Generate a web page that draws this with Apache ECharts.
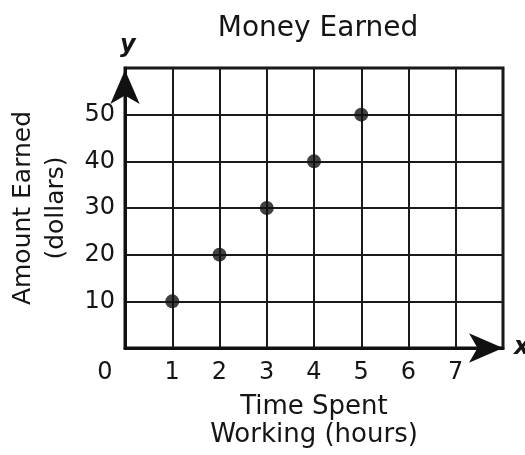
<!DOCTYPE html>
<html>
<head>
<meta charset="utf-8">
<script src="https://cdn.jsdelivr.net/npm/echarts@6/dist/echarts.min.js"></script>
<style>
  html, body { margin: 0; padding: 0; background: #fff; }
  #chart { width: 525px; height: 455px; }
</style>
</head>
<body>
<div id="chart"></div>
<script>
const hours = [1, 2, 3, 4, 5];
const dollars = [10, 20, 30, 40, 50];
const xTicks = [0, 1, 2, 3, 4, 5, 6, 7];
const yTicks = [10, 20, 30, 40, 50];

const font = 'DejaVu Sans';
const ink = '#151515';

const points = hours.map((h, i) => [h, dollars[i]]);

const chart = echarts.init(document.getElementById('chart'));
chart.setOption({
    backgroundColor: '#fff',
    animation: false,
    title: {
        text: 'Money Earned',
        left: 313,
        top: 10,
        textAlign: 'center',
        textStyle: {fontFamily: font, fontSize: 28, fontWeight: 'normal', color: ink}
    },
    grid: {
        left: 125, right: 22, top: 68, bottom: 107,
        outerBoundsMode: 'none', containLabel: false,
        show: true, borderColor: '#111', borderWidth: 3, backgroundColor: 'transparent'
    },
    xAxis: {
        type: 'value',
        min: 0, max: 8, interval: 1,
        name: 'Time Spent\nWorking (hours)',
        nameLocation: 'middle',
        nameGap: 45,
        nameTextStyle: {fontFamily: font, fontSize: 26, color: ink, lineHeight: 28, verticalAlign: 'top'},
        axisLine: {
            show: true, onZero: false,
            symbol: ['none', 'arrow'], symbolSize: [22, 34], symbolOffset: [0, 0],
            lineStyle: {color: '#111', width: 3}
        },
        axisTick: {show: false},
        splitLine: {show: true, lineStyle: {color: '#1a1a1a', width: 2}},
        axisLabel: {
            margin: 13,
            fontFamily: font, fontSize: 24, color: ink,
            formatter: v => xTicks.includes(v) ? (v === 0 ? '{z|0}' : String(v)) : '',
            rich: {z: {fontFamily: font, fontSize: 24, color: ink, padding: [0, 40, 0, 0]}}
        }
    },
    yAxis: {
        type: 'value',
        min: 0, max: 60, interval: 10,
        name: 'Amount Earned\n(dollars)',
        nameLocation: 'middle',
        nameGap: 52,
        nameRotate: 90,
        nameTextStyle: {fontFamily: font, fontSize: 25, color: ink, lineHeight: 33},
        axisLine: {
            show: true, onZero: false,
            symbol: ['none', 'arrow'], symbolSize: [22, 34], symbolOffset: [0, -2],
            lineStyle: {color: '#111', width: 3}
        },
        axisTick: {show: false},
        splitLine: {show: true, lineStyle: {color: '#1a1a1a', width: 2}},
        axisLabel: {
            margin: 10,
            fontFamily: font, fontSize: 24, color: ink,
            formatter: v => yTicks.includes(v) ? String(v) : ''
        }
    },
    graphic: [
        {type: 'text', left: 120, top: 34, style: {text: 'y', fontFamily: font, fontSize: 24, fontWeight: 'bold', fontStyle: 'italic', fill: ink}},
        {type: 'text', left: 514, top: 336, style: {text: 'x', fontFamily: font, fontSize: 24, fontWeight: 'bold', fontStyle: 'italic', fill: ink}}
    ],
    series: [{
        type: 'scatter',
        data: points,
        symbol: 'circle',
        symbolSize: 14,
        itemStyle: {color: '#111'},
        z: 5
    }]
});
</script>
</body>
</html>
